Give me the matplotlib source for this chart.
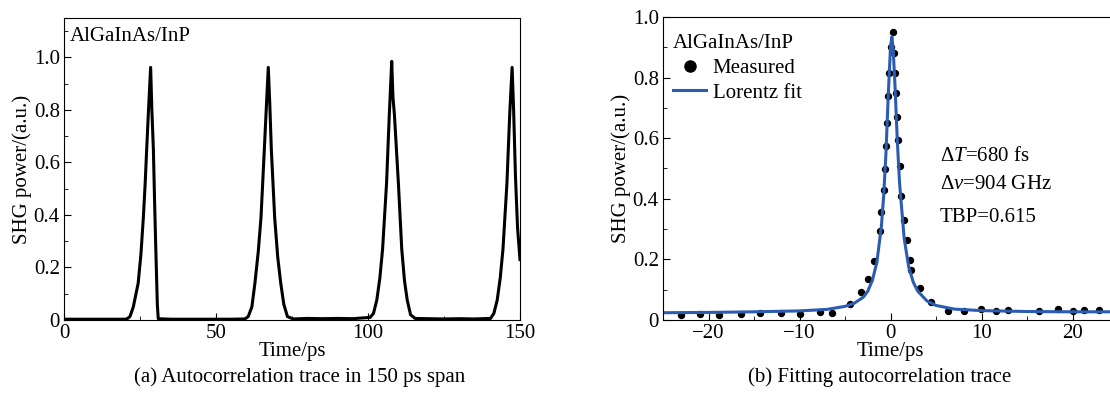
import matplotlib
matplotlib.use("Agg")
import matplotlib.pyplot as plt
from matplotlib.ticker import MultipleLocator, FuncFormatter
from matplotlib.lines import Line2D

plt.rcParams['font.family'] = ['Liberation Serif', 'DejaVu Serif']
plt.rcParams['mathtext.fontset'] = 'custom'
plt.rcParams['mathtext.rm'] = 'Liberation Serif'
plt.rcParams['mathtext.it'] = 'Liberation Serif:italic'
plt.rcParams['font.size'] = 15

# (a) autocorrelation trace, 150 ps span
trace_t = [0, 5, 10, 15, 20.0, 20.7, 21.7, 22.8, 24.4, 25.3, 26.1, 26.7, 27.2, 27.8, 28.5,
           28.9, 29.4, 29.8, 30.2, 30.7, 31.0, 35, 40, 45, 50, 55, 59.5, 60.6, 61.8,
           62.8, 63.9, 64.8, 65.9, 66.6, 67.2, 67.7, 68.2, 69.3, 70.3, 71.3, 72.3,
           73.5, 75.4, 80, 85, 90, 95, 100.7, 101.8, 102.9, 103.9, 104.8, 106.1, 107.0,
           107.8, 108.2, 108.7, 110.0, 111.1, 112.0, 112.9, 114.0, 115.5, 120, 125, 130,
           135, 140.3, 141.4, 142.5, 143.5, 144.4, 145.7, 146.6, 147.4, 147.9, 148.5,
           149.2, 150]
trace_p = [0.003, 0.003, 0.003, 0.003, 0.003, 0.004, 0.013, 0.05, 0.14, 0.25, 0.39, 0.52,
           0.65, 0.80, 0.962, 0.80, 0.65, 0.45, 0.27, 0.06, 0.005, 0.003, 0.003, 0.003,
           0.003, 0.003, 0.004, 0.013, 0.05, 0.14, 0.26, 0.39, 0.65, 0.82, 0.962, 0.82,
           0.65, 0.39, 0.24, 0.14, 0.06, 0.013, 0.004, 0.006, 0.005, 0.006, 0.005, 0.01,
           0.025, 0.076, 0.16, 0.27, 0.52, 0.78, 0.985, 0.85, 0.78, 0.52, 0.27, 0.15,
           0.076, 0.02, 0.006, 0.005, 0.004, 0.005, 0.004, 0.006, 0.025, 0.076, 0.16,
           0.27, 0.52, 0.78, 0.962, 0.80, 0.55, 0.35, 0.23]

# (b) measured points and Lorentz fit
meas_t = [-23.0, -20.9, -18.8, -16.4, -14.3, -12.0, -9.9, -7.8, -6.4, -4.4, -3.2, -2.45,
          -1.83, -1.2, -1.0, -0.73, -0.55, -0.44, -0.33, -0.22, -0.11, 0.0, 0.22, 0.37,
          0.51, 0.62, 0.73, 0.84, 1.0, 1.2, 1.46, 1.83, 2.1, 2.3, 3.2, 4.4, 6.3, 8.1,
          9.9, 11.6, 12.9, 16.3, 18.4, 20.0, 21.3, 22.9]
meas_p = [0.017, 0.020, 0.017, 0.019, 0.022, 0.022, 0.019, 0.025, 0.022, 0.053, 0.094,
          0.134, 0.196, 0.295, 0.358, 0.43, 0.50, 0.573, 0.65, 0.74, 0.815, 0.90, 0.95,
          0.88, 0.815, 0.75, 0.67, 0.595, 0.507, 0.41, 0.33, 0.264, 0.198, 0.165, 0.105,
          0.060, 0.031, 0.031, 0.036, 0.031, 0.033, 0.031, 0.035, 0.031, 0.033, 0.033]

fit_t = [-25, -20, -15, -10, -7, -5, -4, -3, -2.5, -2, -1.5, -1, -0.75, -0.5, -0.25,
         0, 0.15, 0.3, 0.5, 0.75, 1, 1.5, 2, 2.5, 3, 4, 5, 7, 10, 15, 20, 24]
fit_p = [0.024, 0.025, 0.027, 0.030, 0.035, 0.045, 0.055, 0.075, 0.095, 0.13, 0.19,
         0.31, 0.41, 0.55, 0.74, 0.90, 0.935, 0.89, 0.77, 0.59, 0.45, 0.27, 0.175, 0.125,
         0.095, 0.063, 0.048, 0.036, 0.031, 0.028, 0.027, 0.027]

fit_color = '#2b5cb0'


def zero_fmt(v, pos):
    return '0' if abs(v) < 1e-9 else f'{v:.1f}'


fig = plt.figure(figsize=(11.1, 3.97), dpi=100)

# ---- panel (a)
ax1 = fig.add_axes([64 / 1110, 77 / 397, 456 / 1110, 302 / 397])
ax1.plot(trace_t, trace_p, color='black', lw=2.2)
ax1.set_xlim(0, 150)
ax1.set_ylim(0, 1.15)
ax1.xaxis.set_major_locator(MultipleLocator(50))
ax1.xaxis.set_minor_locator(MultipleLocator(25))
ax1.yaxis.set_major_locator(MultipleLocator(0.2))
ax1.yaxis.set_minor_locator(MultipleLocator(0.1))
ax1.yaxis.set_major_formatter(FuncFormatter(zero_fmt))
ax1.tick_params(which='both', direction='in', top=False, right=False, pad=3)
ax1.tick_params(which='major', length=5)
ax1.tick_params(which='minor', length=3)
ax1.set_xlabel('Time/ps')
ax1.xaxis.set_label_coords(0.5, -0.072)
ax1.set_ylabel('SHG power/(a.u.)', labelpad=1)
ax1.text(0.012, 0.97, 'AlGaInAs/InP', transform=ax1.transAxes, va='top', ha='left')
fig.text((64 + 236) / 1110, 20 / 397, '(a) Autocorrelation trace in 150 ps span',
         ha='center', va='center')

# ---- panel (b)
x0, x1 = -25, 27
ax2 = fig.add_axes([663 / 1110, 77 / 397, (x1 - x0) * 9.1 / 1110, 303 / 397])
ax2.plot(meas_t, meas_p, 'o', color='black', ms=4.3, label='Measured')
ax2.plot(fit_t, fit_p, color=fit_color, lw=2.2, label='Lorentz fit')
ax2.set_xlim(x0, x1)
ax2.set_ylim(0, 1.0)
ax2.xaxis.set_major_locator(MultipleLocator(10))
ax2.xaxis.set_minor_locator(MultipleLocator(5))
ax2.yaxis.set_major_locator(MultipleLocator(0.2))
ax2.yaxis.set_minor_locator(MultipleLocator(0.1))
ax2.yaxis.set_major_formatter(FuncFormatter(zero_fmt))
ax2.tick_params(which='both', direction='in', top=False, right=False, pad=3)
ax2.tick_params(which='major', length=5)
ax2.tick_params(which='minor', length=3)
ax2.set_xlabel('Time/ps')
ax2.xaxis.set_label_coords((0 - x0) / (x1 - x0), -0.072)
ax2.set_ylabel('SHG power/(a.u.)', labelpad=1)

handles = [Line2D([], [], marker='o', ls='none', color='black', ms=8),
           Line2D([], [], color=fit_color, lw=2.2)]
leg = ax2.legend(handles, ['Measured', 'Lorentz fit'], title='AlGaInAs/InP',
                 loc='upper left', frameon=False, alignment='left',
                 handlelength=1.6, handletextpad=0.3, labelspacing=0.25,
                 borderaxespad=0.2, bbox_to_anchor=(-0.005, 0.985))
leg.get_title().set_fontsize(15)

ax2.text(5.4, 0.54, r'Δ$\mathit{T}$=680 fs', va='center', ha='left')
ax2.text(5.4, 0.446, r'Δ$\mathit{v}$=904 GHz', va='center', ha='left')
ax2.text(5.4, 0.337, 'TBP=0.615', va='center', ha='left')
fig.text(880 / 1110, 20 / 397, '(b) Fitting autocorrelation trace',
         ha='center', va='center')

fig.savefig('out.png', dpi=100)
